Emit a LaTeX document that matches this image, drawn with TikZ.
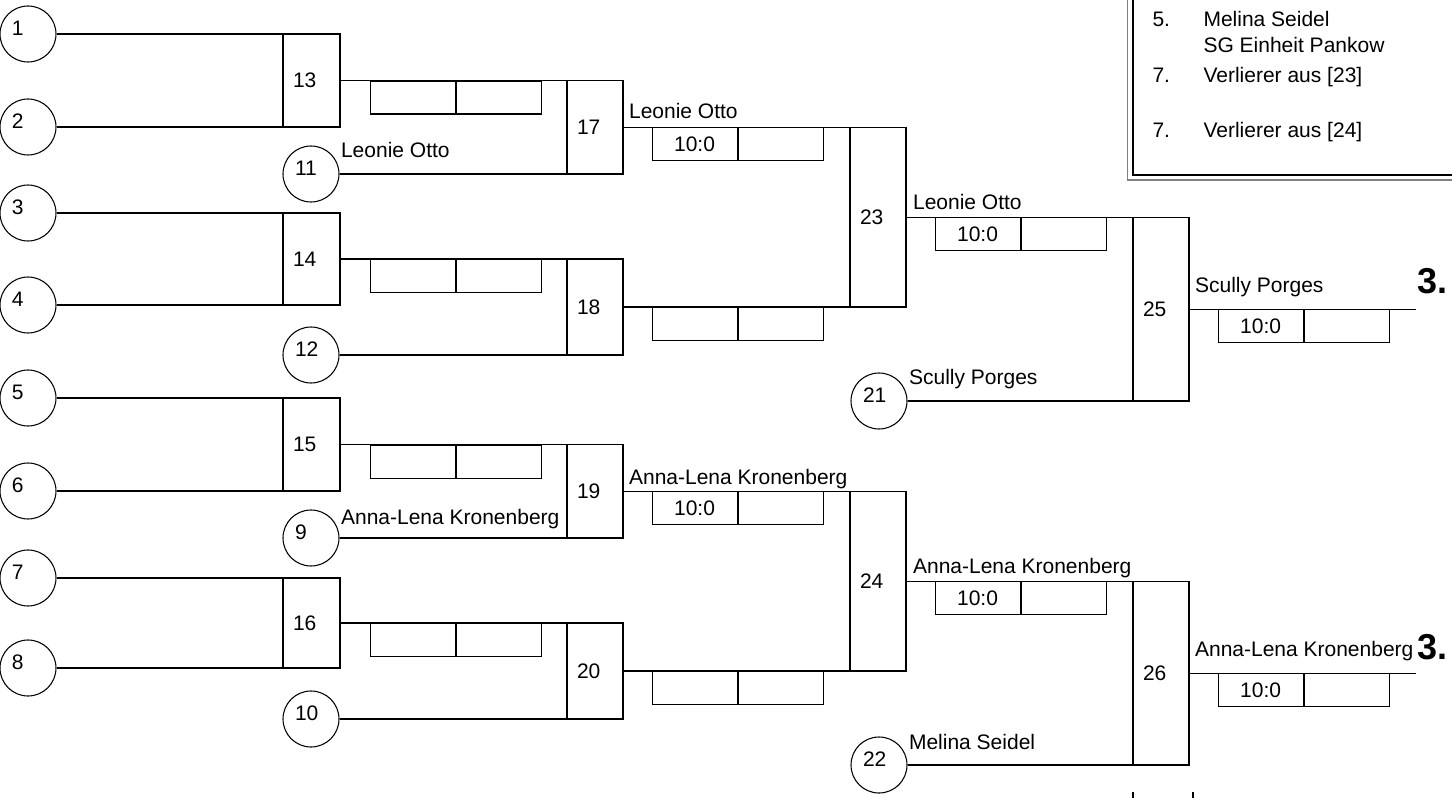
\documentclass[tikz,border=0pt]{standalone}
\usepackage{fontspec}
\setmainfont{Liberation Sans}
\usetikzlibrary{positioning,fit}

\tikzset{
  player/.style={draw, circle, minimum size=42pt, inner sep=0pt,
    label={[anchor=west, inner sep=0pt, xshift=9pt, yshift=4.5pt]west:#1}},
  match/.style={draw, rectangle, inner sep=0pt,
    label={[anchor=west, inner sep=0pt, xshift=7.5pt]west:#1}},
  cell/.style={draw, rectangle, anchor=north west, minimum width=63.75pt,
    minimum height=24.75pt, inner sep=0pt},
  winner/.style={anchor=base west, inner sep=0pt},
  place/.style={anchor=base west, inner sep=0pt, font=\fontsize{27}{30}\selectfont\bfseries}
}

\begin{document}
\begin{tikzpicture}[x=0.75pt, y=-0.75pt, line width=0.8pt, font=\fontsize{15.75}{19}\selectfont]

\useasboundingbox (0,0) rectangle (1452,798);

% players
\node[player=1] (p1) at (28,34) {};
\node[player=2] (p2) at (28,127) {};
\node[player=3] (p3) at (28,213) {};
\node[player=4] (p4) at (28,305) {};
\node[player=5] (p5) at (28,398) {};
\node[player=6] (p6) at (28,491) {};
\node[player=7] (p7) at (28,578) {};
\node[player=8] (p8) at (28,668) {};
\node[player=11] (p11) at (311,174) {};
\node[player=12] (p12) at (311,355) {};
\node[player=9] (p9) at (311,538) {};
\node[player=10] (p10) at (311,719) {};
\node[player=21] (p21) at (879,401) {};
\node[player=22] (p22) at (879,765) {};

% matches
\node[match=13, fit={(283,34) (340,127)}] (b13) {};
\node[match=14, fit={(283,213) (340,305)}] (b14) {};
\node[match=15, fit={(283,398) (340,491)}] (b15) {};
\node[match=16, fit={(283,578) (340,668)}] (b16) {};
\node[match=17, fit={(567,80.5) (623,174)}] (b17) {};
\node[match=18, fit={(567,259) (623,355)}] (b18) {};
\node[match=19, fit={(567,444.5) (623,538)}] (b19) {};
\node[match=20, fit={(567,623) (623,719)}] (b20) {};
\node[match=23, fit={(850,127.25) (906,307)}] (b23) {};
\node[match=24, fit={(850,491.25) (906,671)}] (b24) {};
\node[match=25, fit={(1133,217.125) (1189,401)}] (b25) {};
\node[match=26, fit={(1133,581.125) (1189,765)}] (b26) {};

% first round
\draw (p1.east) -- (p1.east -| b13.west);
\draw (p2.east) -- (p2.east -| b13.west);
\draw (p3.east) -- (p3.east -| b14.west);
\draw (p4.east) -- (p4.east -| b14.west);
\draw (p5.east) -- (p5.east -| b15.west);
\draw (p6.east) -- (p6.east -| b15.west);
\draw (p7.east) -- (p7.east -| b16.west);
\draw (p8.east) -- (p8.east -| b16.west);

\draw (b13.east) -- (b13.east -| b17.west);
\draw (p11.east) -- (p11.east -| b17.west);
\draw (b14.east) -- (b14.east -| b18.west);
\draw (p12.east) -- (p12.east -| b18.west);
\draw (b15.east) -- (b15.east -| b19.west);
\draw (p9.east) -- (p9.east -| b19.west);
\draw (b16.east) -- (b16.east -| b20.west);
\draw (p10.east) -- (p10.east -| b20.west);

\draw (b17.east) -- (b17.east -| b23.west);
\draw (b18.east) -- (b18.east -| b23.west);
\draw (b19.east) -- (b19.east -| b24.west);
\draw (b20.east) -- (b20.east -| b24.west);

\draw (b23.east) -- (b23.east -| b25.west);
\draw (p21.east) -- (p21.east -| b25.west);
\draw (b24.east) -- (b24.east -| b26.west);
\draw (p22.east) -- (p22.east -| b26.west);

\coordinate (end25) at (1416,0);
\draw (b25.east) -- (b25.east -| end25);
\draw (b26.east) -- (b26.east -| end25);

% score cells
\node[cell] (s13a) at ([xshift=22pt]b13.east) {};
\node[cell] (s13b) at (s13a.north east) {};
\node[cell] (s14a) at ([xshift=22pt]b14.east) {};
\node[cell] (s14b) at (s14a.north east) {};
\node[cell] (s15a) at ([xshift=22pt]b15.east) {};
\node[cell] (s15b) at (s15a.north east) {};
\node[cell] (s16a) at ([xshift=22pt]b16.east) {};
\node[cell] (s16b) at (s16a.north east) {};
\node[cell] (s17a) at ([xshift=21pt]b17.east) {10:0};
\node[cell] (s17b) at (s17a.north east) {};
\node[cell] (s18a) at ([xshift=21pt]b18.east) {};
\node[cell] (s18b) at (s18a.north east) {};
\node[cell] (s19a) at ([xshift=21pt]b19.east) {10:0};
\node[cell] (s19b) at (s19a.north east) {};
\node[cell] (s20a) at ([xshift=21pt]b20.east) {};
\node[cell] (s20b) at (s20a.north east) {};
\node[cell] (s23a) at ([xshift=21pt]b23.east) {10:0};
\node[cell] (s23b) at (s23a.north east) {};
\node[cell] (s24a) at ([xshift=21pt]b24.east) {10:0};
\node[cell] (s24b) at (s24a.north east) {};
\node[cell] (s25a) at ([xshift=21pt]b25.east) {10:0};
\node[cell] (s25b) at (s25a.north east) {};
\node[cell] (s26a) at ([xshift=21pt]b26.east) {10:0};
\node[cell] (s26b) at (s26a.north east) {};

% names
\node[winner] (n11) at ([xshift=0.75pt, yshift=12pt]p11.east) {Leonie Otto};
\node[winner] (n9) at ([xshift=0.75pt, yshift=10pt]p9.east) {Anna-Lena Kronenberg};
\node[winner] (n21) at ([xshift=0.75pt, yshift=12.75pt]p21.east) {Scully Porges};
\node[winner] (n22) at ([xshift=0.75pt, yshift=12pt]p22.east) {Melina Seidel};
\node[winner] (n17) at ([xshift=3.75pt, yshift=6.5pt]b17.east) {Leonie Otto};
\node[winner] (n19) at ([xshift=3.75pt, yshift=5pt]b19.east) {Anna-Lena Kronenberg};
\node[winner] (n23) at ([xshift=4.5pt, yshift=6pt]b23.east) {Leonie Otto};
\node[winner] (n24) at ([xshift=4.5pt, yshift=6pt]b24.east) {Anna-Lena Kronenberg};
\node[winner] (n25) at ([xshift=3.75pt, yshift=12.75pt]b25.east) {Scully Porges};
\node[winner] (n26) at ([xshift=3.75pt, yshift=12.75pt]b26.east) {Anna-Lena Kronenberg};

\node[place] (r25) at ([xshift=0.75pt, yshift=12pt]b25.east -| end25) {3.};
\node[place] (r26) at ([xshift=0.75pt, yshift=10.5pt]b26.east -| end25) {3.};

% ranking box
\draw (1133,-5) -- (1133,175) -- (1460,175);
\draw[gray, line width=1.2pt] (1127.5,-5) -- (1127.5,180) -- (1460,180);

\node[winner] (l5) at (1152,27) {5.};
\node[winner] (l5n) at (1203,27) {Melina Seidel};
\node[winner] (l5c) at (1203,53) {SG Einheit Pankow};
\node[winner] (l7a) at (1152,83) {7.};
\node[winner] (l7an) at (1203,83) {Verlierer aus [23]};
\node[winner] (l7b) at (1152,138) {7.};
\node[winner] (l7bn) at (1203,138) {Verlierer aus [24]};

% cut marks at the bottom
\draw[line width=1.5pt] (1133,792) -- (1133,798);
\draw[line width=1.5pt] (1193,792) -- (1193,798);

\end{tikzpicture}
\end{document}
